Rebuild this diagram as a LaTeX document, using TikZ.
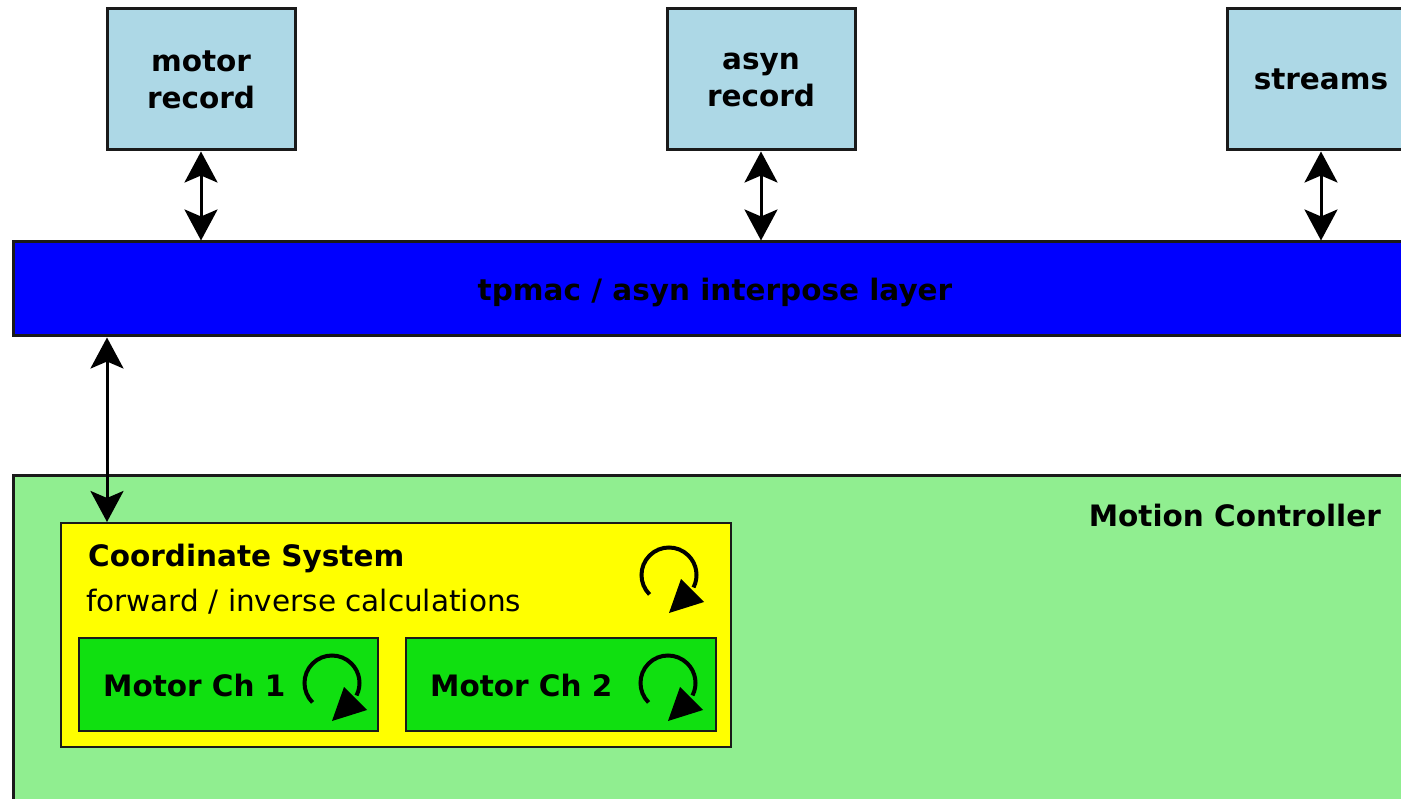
\documentclass[tikz,border=0pt]{standalone}
\usepackage{fontspec}
\setmainfont{DejaVu Sans}
\usetikzlibrary{arrows.meta}
\definecolor{recblue}{HTML}{ADD8E6}
\definecolor{barblue}{HTML}{0000FF}
\definecolor{ctrlgreen}{HTML}{90EE90}
\definecolor{csyellow}{HTML}{FFFF00}
\definecolor{motgreen}{HTML}{10E010}
\definecolor{edge}{HTML}{1A1A1A}
\tikzset{
  base/.style={draw=edge, line width=3pt, inner sep=0pt, font=\fontsize{29.5}{37}\selectfont\bfseries},
  recbox/.style={base, fill=recblue, minimum width=188pt, minimum height=141pt, align=center},
  motbox/.style={base, fill=motgreen, line width=2pt, minimum height=93pt},
  lbl/.style={inner sep=0pt, font=\fontsize{29.5}{37}\selectfont\bfseries},
  dbl/.style={line width=3pt, {Stealth[length=31pt,width=33pt,inset=7pt]}-{Stealth[length=31pt,width=33pt,inset=7pt]}},
  cyc/.pic={
    \draw[line width=4pt] (135:27.5) arc[start angle=135, end angle=387, radius=27.5];
    \fill (0,38) -- (12,4) -- (35,27) -- cycle;
  }
}
\begin{document}
\begin{tikzpicture}[x=1pt,y=-1pt]
\useasboundingbox (0,0) rectangle (1401,799);
\clip (0,0) rectangle (1401,799);
% records
\node[recbox] (mr) at (201,79.5) {motor\\record};
\node[recbox] (ar) at (761,79.5) {asyn\\record};
\node[recbox] (sr) at (1321,79.5) {streams};
% interpose layer
\node[base, fill=barblue, minimum width=1404pt, minimum height=94pt, text depth=0pt] (bar) at (715,289) {tpmac / asyn interpose layer};
% motion controller
\node[base, fill=ctrlgreen, minimum width=1420pt, minimum height=344pt] (mc) at (723,648) {};
\node[lbl, anchor=east] (mcl) at (1381,516) {Motion Controller};
% coordinate system
\node[base, fill=csyellow, line width=2pt, minimum width=670pt, minimum height=224pt] (cs) at (396,635) {};
\node[lbl, anchor=west] (cst) at (88,558) {Coordinate System};
\node[lbl, anchor=west, font=\fontsize{29.5}{37}\selectfont] (csf) at (86,602) {forward / inverse calculations};
\pic at (669,575) {cyc};
% motor channels
\node[motbox, minimum width=299pt] (m1) at (228.5,684.5) {};
\node[lbl, anchor=west] (m1l) at (103,686) {Motor Ch 1};
\pic at (332,683) {cyc};
\node[motbox, minimum width=310pt] (m2) at (561,684.5) {};
\node[lbl, anchor=west] (m2l) at (430,686) {Motor Ch 2};
\pic at (668,683) {cyc};
% connectors
\draw[dbl] (mr.south) -- (mr.south |- bar.north);
\draw[dbl] (ar.south) -- (ar.south |- bar.north);
\draw[dbl] (sr.south) -- (sr.south |- bar.north);
\coordinate (ax) at (107,0);
\draw[dbl] (bar.south -| ax) -- (cs.north -| ax);
\end{tikzpicture}
\end{document}
